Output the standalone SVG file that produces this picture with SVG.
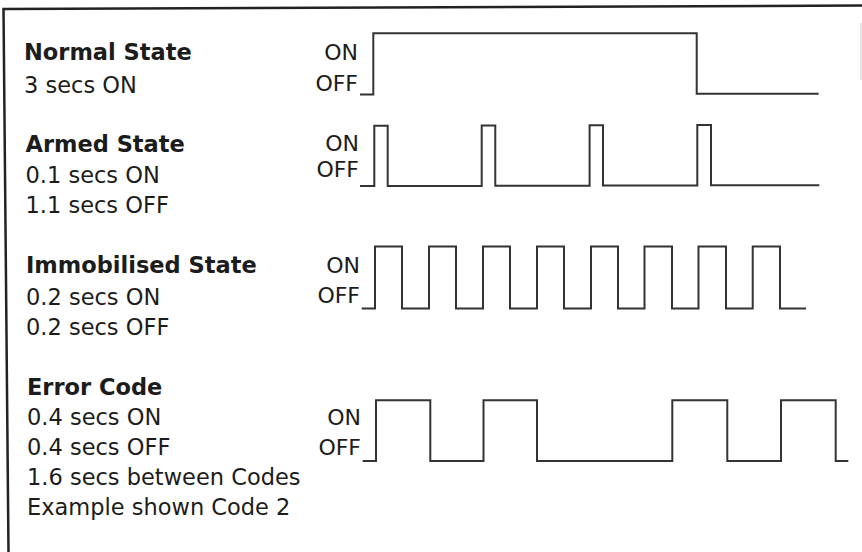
<svg xmlns="http://www.w3.org/2000/svg" width="862" height="552" viewBox="0 0 862 552">
<style>
  .t { font-family: "DejaVu Sans", Verdana, sans-serif; font-size: 22.5px; fill: #1c1c1c; }
  .b { font-weight: bold; }
  .lbl { font-family: "DejaVu Sans", Verdana, sans-serif; font-size: 22px; fill: #1c1c1c; text-anchor: end; }
  .wave { fill: none; stroke: #333; stroke-width: 2; stroke-linejoin: miter; stroke-linecap: butt; }
  .frame { fill: none; stroke: #222; stroke-width: 2.5; }
</style>
<rect x="0" y="0" width="862" height="552" fill="#fff"/>
<g id="frame">
  <path class="frame" d="M862,5.5 L3.5,9 L8.5,552"/>
  <line x1="861" y1="23" x2="861" y2="80" stroke="#ddd" stroke-width="1.5"/>
</g>
<g id="normal">
  <text class="t b" x="24" y="59.5">Normal State</text>
  <text class="t" x="24" y="92.5">3 secs ON</text>
  <text class="lbl" x="358" y="59.5">ON</text>
  <text class="lbl" x="358" y="90.5">OFF</text>
  <path class="wave" d="M360,94.6 H373.3 V33.3 H696.7 V93.8 H818.7"/>
</g>
<g id="armed">
  <text class="t b" x="25.5" y="152">Armed State</text>
  <text class="t" x="25.5" y="183">0.1 secs ON</text>
  <text class="t" x="25.5" y="213">1.1 secs OFF</text>
  <text class="lbl" x="359" y="150.7">ON</text>
  <text class="lbl" x="359" y="177.3">OFF</text>
  <path class="wave" d="M360,186 H374.3 V125.7 H387.7 V186 H481.7 V125.5 H495.3 V185.7 H589.6 V125.3 H603 V185.5 H697.3 V125 H711 V185.3 H819.3"/>
</g>
<g id="immobilised">
  <text class="t b" x="26" y="273.3">Immobilised State</text>
  <text class="t" x="26" y="305">0.2 secs ON</text>
  <text class="t" x="26" y="335">0.2 secs OFF</text>
  <text class="lbl" x="360" y="273.3">ON</text>
  <text class="lbl" x="360" y="302.7">OFF</text>
  <path class="wave" d="M361.7,308.5 H375 V246.5 H402 V308.5 H429 V246.5 H456 V308.5 H483 V246.5 H510 V308.5 H537 V246.5 H564 V308.5 H591 V246.5 H618 V308.5 H644.5 V246.5 H672 V308.5 H698.5 V246.5 H726 V308.5 H752.7 V246.5 H780 V308.5 H806"/>
</g>
<g id="error">
  <text class="t b" x="27" y="395">Error Code</text>
  <text class="t" x="27" y="425">0.4 secs ON</text>
  <text class="t" x="27" y="455">0.4 secs OFF</text>
  <text class="t" x="27" y="485">1.6 secs between Codes</text>
  <text class="t" x="27" y="515">Example shown Code 2</text>
  <text class="lbl" x="361" y="425">ON</text>
  <text class="lbl" x="361" y="454.5">OFF</text>
  <path class="wave" d="M362.7,461 H376 V400.3 H430.3 V461 H483.5 V400.3 H537 V461 H672.3 V400.3 H727.3 V461 H781 V400.3 H835.7 V461 H848.3"/>
</g>
</svg>
